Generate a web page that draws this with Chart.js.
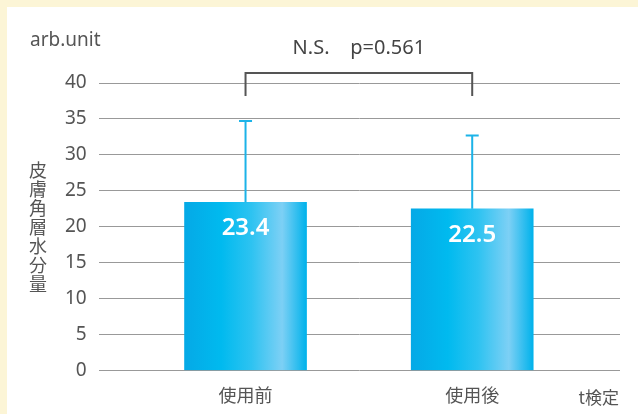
<!DOCTYPE html>
<html>
<head>
<meta charset="utf-8">
<script src="https://cdn.jsdelivr.net/npm/chart.js@4"></script>
<style>
  html, body { margin:0; padding:0; background:#fcf5d6; }
  #panel { position:absolute; left:7px; top:7px; width:631px; height:407px; background:#fff; }
  canvas { display:block; }
</style>
</head>
<body>
<div id="panel"><canvas id="chart" width="631" height="407"></canvas></div>
<script>
// データ
const categories = ['使用前', '使用後'];
const means = [23.4, 22.5];
const errTop = [34.7, 32.7];
const yTicks = [0, 5, 10, 15, 20, 25, 30, 35, 40];
const yUnit = 'arb.unit';
const yTitle = '皮膚角層水分量';
const testNote = 'N.S.    p=0.561';
const testName = 't検定';

const FONT = '"Noto Sans", "Noto Sans CJK JP", sans-serif';
const JPFONT = '"Noto Sans CJK JP", sans-serif';

function barGradient(context) {
  const chart = context.chart;
  if (!chart.chartArea || context.dataIndex === undefined) return '#00b4ec';
  const cx = chart.scales.x.getPixelForValue(context.dataIndex);
  const g = chart.ctx.createLinearGradient(cx - 61, 0, cx + 61, 0);
  g.addColorStop(0, '#05a9e6');
  g.addColorStop(0.3, '#00baef');
  g.addColorStop(0.55, '#2ec3f1');
  g.addColorStop(0.8, '#7dd0f5');
  g.addColorStop(1, '#00b2eb');
  return g;
}

// 誤差棒・有意差ブラケット・ラベル
const extras = {
  id: 'extras',
  afterDatasetsDraw(chart) {
    const ctx = chart.ctx, x = chart.scales.x, y = chart.scales.y;
    ctx.save();
    // error bars
    ctx.strokeStyle = '#1cb3e8';
    ctx.lineWidth = 2;
    means.forEach((m, i) => {
      const px = x.getPixelForValue(i);
      ctx.beginPath();
      ctx.moveTo(px, y.getPixelForValue(m));
      ctx.lineTo(px, y.getPixelForValue(errTop[i]));
      ctx.moveTo(px - 6.5, y.getPixelForValue(errTop[i]));
      ctx.lineTo(px + 6.5, y.getPixelForValue(errTop[i]));
      ctx.stroke();
    });
    // value labels
    ctx.fillStyle = '#fff';
    ctx.font = '600 24px ' + FONT;
    ctx.textAlign = 'center';
    ctx.textBaseline = 'middle';
    means.forEach((m, i) => {
      ctx.fillText(m.toFixed(1), x.getPixelForValue(i), y.getPixelForValue(m) + 26);
    });
    // bracket
    const x0 = x.getPixelForValue(0), x1 = x.getPixelForValue(1);
    const top = y.getPixelForValue(40) - 10;
    ctx.strokeStyle = '#555';
    ctx.lineWidth = 2;
    ctx.beginPath();
    ctx.moveTo(x0, top + 23);
    ctx.lineTo(x0, top);
    ctx.lineTo(x1, top);
    ctx.lineTo(x1, top + 23);
    ctx.stroke();
    ctx.fillStyle = '#444';
    ctx.font = '20px ' + FONT;
    ctx.fillText(testNote, (x0 + x1) / 2, top - 25);
    // unit and titles
    ctx.fillStyle = '#555';
    ctx.textAlign = 'left';
    ctx.font = '19px ' + FONT;
    ctx.fillText(yUnit, 23, 34);
    ctx.textAlign = 'center';
    ctx.font = '18px ' + JPFONT;
    [...yTitle].forEach((ch, i) => ctx.fillText(ch, 31, 163 + i * 19));
    ctx.font = '17px ' + JPFONT;
    ctx.textAlign = 'right';
    ctx.fillText(testName, 612, 391);
    ctx.restore();
  }
};

new Chart(document.getElementById('chart'), {
  type: 'bar',
  data: {
    datasets: [{
      data: means.map((v, i) => ({ x: i, y: v })),
      backgroundColor: barGradient,
      barThickness: 122,
      borderWidth: 0
    }]
  },
  options: {
    responsive: false,
    animation: false,
    layout: { padding: { top: 76, right: 18, left: 46, bottom: 2 } },
    plugins: { legend: { display: false }, tooltip: { enabled: false } },
    scales: {
      x: {
        type: 'linear',
        offset: false,
        bounds: 'data',
        min: -0.6476,
        max: 1.652,
        grid: { display: false },
        border: { display: false },
        afterBuildTicks: s => { s.ticks = categories.map((c, i) => ({ value: i })); },
        ticks: {
          callback: v => categories[v],
          color: '#555',
          font: { size: 18, family: JPFONT },
          padding: 6
        }
      },
      y: {
        min: 0,
        max: 40,
        afterBuildTicks: s => { s.ticks = yTicks.map(v => ({ value: v })); },
        grid: { color: '#999', lineWidth: 1, drawTicks: false },
        border: { display: false },
        ticks: {
          color: '#555',
          font: { size: 19, family: FONT },
          padding: 12
        }
      }
    }
  },
  plugins: [extras]
});
</script>
</body>
</html>
